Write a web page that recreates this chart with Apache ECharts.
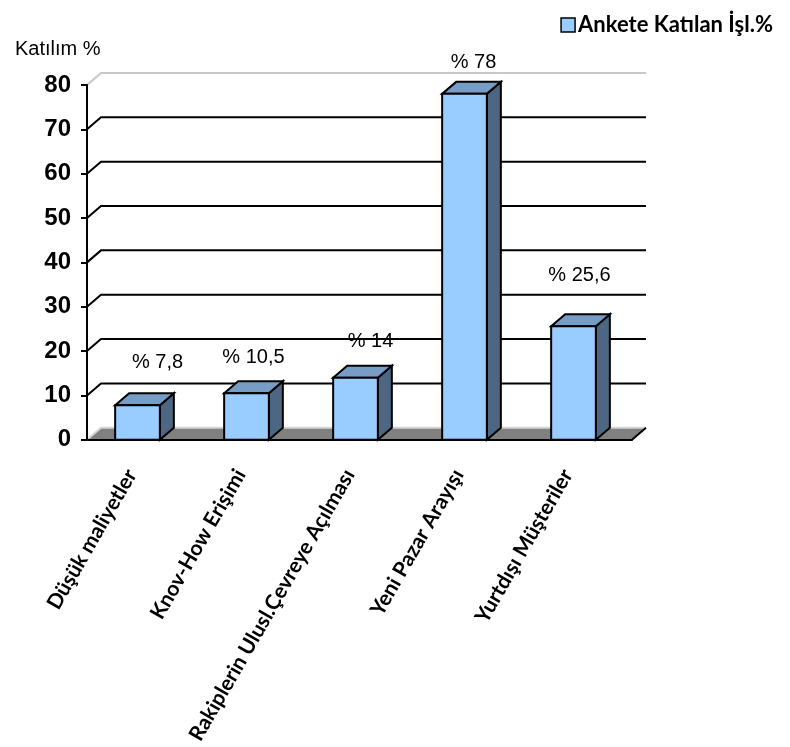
<!DOCTYPE html>
<html>
<head>
<meta charset="utf-8">
<script src="https://cdn.jsdelivr.net/npm/echarts@6/dist/echarts.min.js"></script>
<style>
  html, body { margin: 0; padding: 0; background: #fff; }
  #main { width: 790px; height: 747px; }
</style>
</head>
<body>
<div id="main"></div>
<script>
// chart data
var categories = ['Düşük maliyetler', 'Knov-How Erişimi', 'Rakiplerin Ulusl.Çevreye Açılması', 'Yeni Pazar Arayışı', 'Yurtdışı Müşteriler'];
var values = [7.8, 10.5, 14, 78, 25.6];
var yTicks = [0, 10, 20, 30, 40, 50, 60, 70, 80];
var seriesName = 'Ankete Katılan İşl.%';
var axisTitle = 'Katılım %';

// label nudges in px, from the front-top of each bar
var labelNudge = [[16, -43], [3, -36], [11, -36], [5, -31], [2, -51]];

// 3d depth offset
var DX = 14, DY = -12;

var chart = echarts.init(document.getElementById('main'));

function fmt(v) {
  return '% ' + String(v).replace('.', ',');
}

// back wall grid lines + floor
function renderWall(params, api) {
  var cs = params.coordSys;
  var left = cs.x, right = cs.x + cs.width;
  var v = api.value(1);
  var y = api.coord([0, v])[1];
  if (v === 0) {
    return {
      type: 'group',
      children: [
        { type: 'polygon', shape: { points: [[left, y], [right, y], [right + DX, y + DY], [left + DX, y + DY]] }, style: { fill: '#808080' } },
        { type: 'polyline', shape: { points: [[left, y], [left + DX, y + DY], [right + DX, y + DY]] }, style: { stroke: '#d4d4d4', lineWidth: 2, fill: null } },
        { type: 'line', shape: { x1: right, y1: y, x2: right + DX, y2: y + DY }, style: { stroke: '#000', lineWidth: 2 } }
      ]
    };
  }
  var isTop = v === yTicks[yTicks.length - 1];
  return {
    type: 'polyline',
    shape: { points: [[left, y], [left + DX, y + DY], [right + DX, y + DY]] },
    style: { stroke: isTop ? '#c8c8c8' : '#000', lineWidth: 2, fill: null }
  };
}

// 3d bar
function renderBar(params, api) {
  var i = api.value(0);
  var base = api.coord([i, 0]);
  var top = api.coord([i, api.value(1)]);
  var bw = api.size([1, 0])[0] * 0.41;
  var x0 = base[0] - bw / 2 - 4, x1 = x0 + bw;
  var y0 = top[1], y1 = base[1];
  var nudge = labelNudge[params.dataIndex];
  return {
    type: 'group',
    children: [
      { type: 'polygon', shape: { points: [[x1, y0], [x1 + DX, y0 + DY], [x1 + DX, y1 + DY], [x1, y1]] }, style: { fill: '#4d6682', stroke: '#000', lineWidth: 2 } },
      { type: 'polygon', shape: { points: [[x0, y0], [x0 + DX, y0 + DY], [x1 + DX, y0 + DY], [x1, y0]] }, style: { fill: '#779dc6', stroke: '#000', lineWidth: 2 } },
      { type: 'rect', shape: { x: x0, y: y0, width: bw, height: y1 - y0 }, style: { fill: '#99ccff', stroke: '#000', lineWidth: 2 } },
      {
        type: 'text',
        x: base[0] + nudge[0], y: y0 + nudge[1],
        style: { text: fmt(api.value(1)), fill: '#000', fontSize: 20, fontFamily: 'Liberation Sans', align: 'center', verticalAlign: 'middle' }
      }
    ]
  };
}

var option = {
  backgroundColor: '#fff',
  animation: false,
  title: {
    text: axisTitle,
    left: 10, top: 34,
    textStyle: { fontSize: 20, fontWeight: 'normal', fontFamily: 'Liberation Sans', color: '#000' }
  },
  legend: {
    data: [seriesName],
    right: 12, top: 9,
    icon: 'rect',
    itemWidth: 14, itemHeight: 14, itemGap: 5,
    itemStyle: { borderColor: '#000', borderWidth: 1.5 },
    textStyle: { fontSize: 22, fontWeight: 'bold', fontFamily: 'Lato', color: '#000', padding: [0, 0, 0, -2] }
  },
  grid: { left: 87, right: 158, top: 85, bottom: 307 },
  xAxis: {
    type: 'category',
    data: categories,
    z: 5,
    axisLine: { lineStyle: { color: '#000', width: 2 } },
    axisTick: { length: 10, lineStyle: { color: '#000', width: 2 } },
    axisLabel: { interval: 0, rotate: 60, margin: 14, padding: [0, 20, 12, 0], fontSize: 21, fontWeight: 'bold', fontFamily: 'Lato', color: '#000' }
  },
  yAxis: {
    type: 'value',
    min: 0, max: 80, interval: 10,
    z: 5,
    axisLine: { show: true, lineStyle: { color: '#000', width: 2 } },
    axisTick: { show: true, length: 6, lineStyle: { color: '#000', width: 2 } },
    axisLabel: { margin: 16, fontSize: 24, fontWeight: 'bold', fontFamily: 'Liberation Sans', color: '#000' },
    splitLine: { show: false }
  },
  series: [
    {
      type: 'custom',
      name: 'walls',
      z: 1,
      silent: true,
      renderItem: renderWall,
      data: yTicks.map(function (v) { return [0, v]; })
    },
    {
      type: 'custom',
      name: seriesName,
      z: 2,
      itemStyle: { color: '#99ccff' },
      renderItem: renderBar,
      data: values.map(function (v, i) { return [i, v]; })
    }
  ]
};

chart.setOption(option);
</script>
</body>
</html>
